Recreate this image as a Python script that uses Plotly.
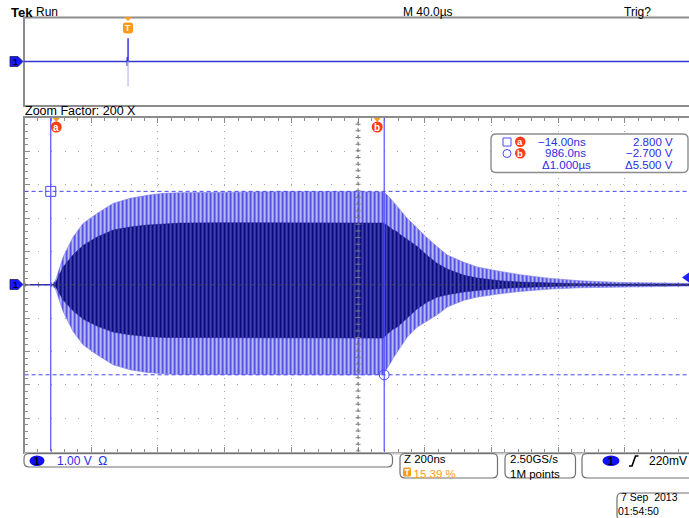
import plotly.graph_objects as go

# ---------------- data (read from the screen) ----------------
# zoom window envelope, time in ns, volts (1 V/div)
env_t = [-8, 0, 23, 53, 83, 125, 173, 224, 275, 323, 374, 500, 700, 900, 983,
         995, 1004, 1013, 1025, 1034, 1055, 1085, 1115, 1145, 1175, 1223, 1265,
         1334, 1394, 1484, 1574, 1694, 1800, 1900]
outer_hi = [0.05, 0.12, 0.83, 1.43, 1.84, 2.14, 2.44, 2.59, 2.68, 2.74, 2.76, 2.78, 2.79, 2.79, 2.78,
            2.69, 2.60, 2.49, 2.35, 2.24, 1.99, 1.70, 1.40, 1.14, 0.89, 0.68, 0.53,
            0.40, 0.30, 0.19, 0.12, 0.07, 0.05, 0.04]
outer_lo = [-0.05, -0.12, -0.80, -1.40, -1.80, -2.10, -2.40, -2.55, -2.63, -2.67, -2.69, -2.70, -2.70, -2.70, -2.69,
            -2.50, -2.36, -2.20, -2.00, -1.88, -1.57, -1.27, -1.08, -0.90, -0.67, -0.47, -0.37,
            -0.27, -0.20, -0.13, -0.09, -0.06, -0.05, -0.04]
inner_hi = [0.0, 0.05, 0.53, 0.90, 1.18, 1.43, 1.64, 1.73, 1.79, 1.83, 1.85, 1.86, 1.86, 1.86, 1.85,
            1.78, 1.70, 1.64, 1.59, 1.50, 1.36, 1.15, 0.88, 0.64, 0.47, 0.29, 0.20,
            0.12, 0.08, 0.05, 0.03, 0.02, 0.02, 0.02]
inner_lo = [0.0, -0.05, -0.46, -0.78, -1.03, -1.24, -1.42, -1.50, -1.55, -1.58, -1.60, -1.60, -1.60, -1.60, -1.60,
            -1.48, -1.40, -1.33, -1.27, -1.18, -1.00, -0.72, -0.52, -0.37, -0.30, -0.22, -0.17,
            -0.11, -0.08, -0.05, -0.03, -0.02, -0.02, -0.02]
pre_t = [-92.4, -8]
pre_v = [0.0, 0.0]

# overview record (µs, volts)
ov_t = [-62.6, -0.5, -0.5, -0.5, 0.0, 337.4]
ov_v = [0.0, 0.0, 0.5, -0.5, 0.0, 0.0]
spike_t = [0.0, 0.0]
spike_hi = [0.0, 2.6]
spike_lo = [0.0, -2.8]

# cursors
cur_t = [-14.0, 986.0]
cur_v = [2.8, -2.7]
cur_names = ["a", "b"]
readout = [["−14.00ns", "2.800 V"], ["986.0ns", "−2.700 V"], ["Δ1.000µs", "Δ5.500 V"]]
trig_level = 0.22

# axes
X_RANGE = [-92.4, 1900]
Y_RANGE = [-5, 5]
OV_RANGE = [-62.6, 337.4]

# ---------------- helpers ----------------
W, H = 689, 518
def px(x): return x / W
def py(y): return 1 - y / H

def rrect(x0, y0, x1, y1, r):
    pts = [("M", [(x0 + r, y0)]), ("L", [(x1 - r, y0)]), ("Q", [(x1, y0), (x1, y0 + r)]),
           ("L", [(x1, y1 - r)]), ("Q", [(x1, y1), (x1 - r, y1)]), ("L", [(x0 + r, y1)]),
           ("Q", [(x0, y1), (x0, y1 - r)]), ("L", [(x0, y0 + r)]), ("Q", [(x0, y0), (x0 + r, y0)])]
    s = ""
    for c, ps in pts:
        s += c + " " + " ".join(f"{px(a):.5f},{py(b):.5f}" for a, b in ps) + " "
    return s + "Z"

def poly(points, close=True):
    return "M " + " L ".join(f"{px(a):.5f},{py(b):.5f}" for a, b in points) + (" Z" if close else "")

GRAY = "#8c8c8c"
BLUE_TXT = "#2c2ce6"
ORANGE = "#ff9a1c"
RED = "#ff3d14"
FONT = "Liberation Sans"

fig = go.Figure()

# ---------------- traces ----------------
fig.add_trace(go.Scatter(
    x=env_t + env_t[::-1], y=outer_hi + outer_lo[::-1], fill="toself", mode="lines",
    line=dict(width=0.6, color="#7c7cee"), fillcolor="#b4b4f4",
    fillpattern=dict(shape="|", size=4, solidity=0.45, fgcolor="#4848e4", bgcolor="#b8b8f6", fillmode="replace"),
    hoverinfo="skip", xaxis="x", yaxis="y"))
fig.add_trace(go.Scatter(
    x=env_t + env_t[::-1], y=inner_hi + inner_lo[::-1], fill="toself", mode="lines",
    line=dict(width=0.5, color="#1a1a90"), fillcolor="#0c0c80",
    fillpattern=dict(shape="|", size=4, solidity=0.28, fgcolor="#6a6ae0", bgcolor="#0b0b7c", fillmode="replace"),
    hoverinfo="skip", xaxis="x", yaxis="y"))
fig.add_trace(go.Scatter(x=pre_t, y=pre_v, mode="lines", line=dict(color="#2a2ad0", width=1.6),
                         hoverinfo="skip", xaxis="x", yaxis="y"))
# cursor markers
fig.add_trace(go.Scatter(x=[cur_t[0]], y=[cur_v[0]], mode="markers",
                         marker=dict(symbol="square-open", size=10, color="#4a4aff", line=dict(width=1)),
                         hoverinfo="skip", xaxis="x", yaxis="y"))
fig.add_trace(go.Scatter(x=[cur_t[1]], y=[cur_v[1]], mode="markers",
                         marker=dict(symbol="circle-open", size=10, color="#4a4aff", line=dict(width=1)),
                         hoverinfo="skip", xaxis="x", yaxis="y"))

# overview
fig.add_trace(go.Scatter(x=ov_t, y=ov_v, mode="lines", line=dict(color="#3434d6", width=1.5),
                         hoverinfo="skip", xaxis="x2", yaxis="y2"))
fig.add_trace(go.Scatter(x=spike_t, y=spike_hi, mode="lines", line=dict(color="#3434e0", width=1.5),
                         hoverinfo="skip", xaxis="x2", yaxis="y2"))
fig.add_trace(go.Scatter(x=spike_t, y=spike_lo, mode="lines", line=dict(color="#c8c8f4", width=1.5),
                         hoverinfo="skip", xaxis="x2", yaxis="y2"))

# ---------------- layout / axes ----------------
x_dom = [24.6 / W, 1]
y_dom = [py(451.5), py(118)]
fig.update_layout(
    width=W, height=518, margin=dict(l=0, r=0, t=0, b=0),
    paper_bgcolor="white", plot_bgcolor="white", showlegend=False,
    xaxis=dict(domain=x_dom, range=X_RANGE, anchor="y", showgrid=True, gridcolor="#a6a6a6", gridwidth=1,
               griddash="1px,5.67px", tick0=X_RANGE[0], dtick=200, ticks="inside", ticklen=5,
               tickcolor=GRAY, showticklabels=False, showline=True, linecolor=GRAY, linewidth=2,
               mirror="ticks", zeroline=False, fixedrange=True,
               minor=dict(dtick=40, tick0=X_RANGE[0], ticks="inside", ticklen=3, tickcolor=GRAY, showgrid=False)),
    yaxis=dict(domain=y_dom, range=Y_RANGE, anchor="x", showgrid=True, gridcolor="#a6a6a6", gridwidth=1,
               griddash="1px,12.3px", tick0=-5, dtick=1, ticks="inside", ticklen=5, tickcolor=GRAY,
               showticklabels=False, showline=True, linecolor=GRAY, linewidth=2, mirror=False,
               zeroline=False, fixedrange=True,
               minor=dict(dtick=0.2, tick0=-5, ticks="inside", ticklen=3, tickcolor=GRAY, showgrid=False)),
    xaxis2=dict(domain=[24 / W, 1], range=OV_RANGE, anchor="y2", visible=False, fixedrange=True),
    yaxis2=dict(domain=[py(106), py(17)], range=Y_RANGE, anchor="x2", visible=False, fixedrange=True),
)

shapes = []
# top panel frame
shapes.append(dict(type="rect", xref="paper", yref="paper", x0=px(24), x1=px(695), y0=py(106), y1=py(17.5),
                   line=dict(color=GRAY, width=2), layer="below"))
# center cross of the zoom graticule
xc = X_RANGE[0] + 1000
shapes.append(dict(type="line", xref="x", yref="y", x0=X_RANGE[0], x1=X_RANGE[1], y0=0, y1=0,
                   line=dict(color="#4a4a4a", width=1, dash="3px,3.67px"), layer="above"))
shapes.append(dict(type="line", xref="x", yref="y", x0=xc, x1=xc, y0=Y_RANGE[0], y1=Y_RANGE[1],
                   line=dict(color="#5a5a5a", width=1, dash="3px,3.67px"), layer="above"))
shapes.append(dict(type="line", xref="x", yref="y", x0=xc, x1=xc, y0=Y_RANGE[0], y1=Y_RANGE[1],
                   line=dict(color="#7a7a7a", width=5, dash="1px,5.67px"), layer="above"))
shapes.append(dict(type="line", xref="x", yref="y", x0=X_RANGE[0], x1=X_RANGE[1], y0=0, y1=0,
                   line=dict(color="#8a8a8a", width=5, dash="1px,12.33px"), layer="below"))
# cursor lines
for t in cur_t:
    shapes.append(dict(type="line", xref="x", yref="y", x0=t, x1=t, y0=Y_RANGE[0], y1=Y_RANGE[1],
                       line=dict(color="#5050ff", width=1.2), layer="above"))
for v in cur_v:
    shapes.append(dict(type="line", xref="x", yref="y", x0=X_RANGE[0], x1=X_RANGE[1], y0=v, y1=v,
                       line=dict(color="#4646ee", width=1, dash="4px,3px"), layer="above"))
# cursor labels (pixel offsets from the cursor time)
for t, off in zip(cur_t, [5.5, -7]):
    shapes.append(dict(type="path", xref="x", yref="paper", xsizemode="pixel", xanchor=t,
                       path=f"M {off-3.5},{py(118)} L {off+3.5},{py(118)} L {off},{py(122)} Z",
                       fillcolor=ORANGE, line=dict(width=0), layer="above"))
    shapes.append(dict(type="circle", xref="x", yref="paper", xsizemode="pixel", xanchor=t,
                       x0=off - 5.5, x1=off + 5.5, y0=py(132.5), y1=py(121.5),
                       fillcolor=RED, line=dict(width=0), layer="above"))
# trigger level arrow on the right
shapes.append(dict(type="path", xref="paper", yref="y",
                   path=f"M {px(682)},{trig_level} L {px(689)},{trig_level + 0.15} L {px(689)},{trig_level - 0.15} Z",
                   fillcolor="#2020ff", line=dict(width=0), layer="above"))
# readout box
shapes.append(dict(type="path", path=rrect(491, 134, 688, 172.5, 5), xref="paper", yref="paper",
                   fillcolor="white", line=dict(color=GRAY, width=1.4), layer="above"))
shapes.append(dict(type="rect", xref="paper", yref="paper", x0=px(503), x1=px(511), y0=py(146), y1=py(138),
                   line=dict(color="#4a4aff", width=1), layer="above"))
shapes.append(dict(type="circle", xref="paper", yref="paper", x0=px(503), x1=px(511), y0=py(157.5), y1=py(149.5),
                   line=dict(color="#4a4aff", width=1), layer="above"))
for yy in [141.7, 153.3]:
    shapes.append(dict(type="circle", xref="paper", yref="paper", x0=px(515), x1=px(525.5), y0=py(yy + 5.2),
                       y1=py(yy - 5.2), fillcolor=RED, line=dict(width=0), layer="above"))
# ground markers
for yc in [61.5, 284.5]:
    shapes.append(dict(type="path", xref="paper", yref="paper",
                       path=poly([(10, yc - 5), (18, yc - 5), (23, yc), (18, yc + 5), (10, yc + 5)]),
                       fillcolor="#1818ff", line=dict(color="#202060", width=0.8), layer="above"))
# trigger position marker on the overview
shapes.append(dict(type="path", xref="paper", yref="paper",
                   path=poly([(124, 17), (132, 17), (128, 21)]), fillcolor=ORANGE, line=dict(width=0)))
shapes.append(dict(type="path", xref="paper", yref="paper", path=rrect(123, 22.5, 133, 33.5, 2.5),
                   fillcolor=ORANGE, line=dict(width=0)))
# status boxes
shapes.append(dict(type="line", xref="paper", yref="paper", x0=px(24), x1=px(695), y0=py(453.5), y1=py(453.5),
                   line=dict(color="#c8c8c8", width=2)))
for (a, b, c, d) in [(24, 453.5, 392.5, 467), (400, 453.5, 497.5, 478), (505, 453.5, 575.5, 478),
                     (582, 453.5, 700, 478), (617, 493, 700, 520)]:
    shapes.append(dict(type="path", path=rrect(a, b, c, d, 5), xref="paper", yref="paper",
                       fillcolor="rgba(0,0,0,0)", line=dict(color="#707070", width=1.2)))
for (a, b, c, d) in [(29.5, 455.5, 44.5, 466), (602.5, 455.5, 619.5, 466)]:
    shapes.append(dict(type="circle", xref="paper", yref="paper", x0=px(a), x1=px(c), y0=py(d), y1=py(b),
                       fillcolor="#1010ff", line=dict(width=0)))
# trigger-position icon (orange square with a white T)
shapes.append(dict(type="path", xref="paper", yref="paper", path=rrect(403, 467.5, 411, 476.5, 1.5),
                   fillcolor=ORANGE, line=dict(width=0)))
shapes.append(dict(type="path", xref="paper", yref="paper",
                   path=poly([(404.5, 469.8), (409.5, 469.8)], close=False), line=dict(color="white", width=1.4)))
shapes.append(dict(type="path", xref="paper", yref="paper",
                   path=poly([(407, 469.8), (407, 475.2)], close=False), line=dict(color="white", width=1.4)))
# slope symbol
shapes.append(dict(type="path", xref="paper", yref="paper",
                   path=f"M {px(629)},{py(466)} L {px(632)},{py(466)} L {px(635.5)},{py(456)} L {px(638.5)},{py(456)}",
                   line=dict(color="black", width=1.6)))
fig.update_layout(shapes=shapes)

# ---------------- text ----------------
ann = []
def text(x, y, s, size=12, color="black", anchor="left", bold=False, family=FONT, align="left"):
    ann.append(dict(x=px(x), y=py(y), xref="paper", yref="paper", text=f"<b>{s}</b>" if bold else s,
                    showarrow=False, xanchor=anchor, yanchor="middle", align=align, borderpad=0,
                    font=dict(family=family, size=size, color=color)))

text(10, 12.5, "Tek", 13, bold=True)
text(35, 12, "Run", 12)
text(402, 12, "M 40.0µs", 12)
text(623, 12, "Trig?", 12)
text(24, 111.5, "Zoom Factor: 200 X", 12.5)
# overview T
text(128, 28, "T", 8.5, "white", "center", True)
# ground marker labels
for yc in [61.5, 284.5]:
    text(15.5, yc, "1", 9, "black", "center", True)
# cursor label letters
for t, off, nm in zip(cur_t, [5.5, -7], cur_names):
    ann.append(dict(x=t, y=py(127), xref="x", yref="paper", xshift=off, text=f"<b>{nm}</b>", showarrow=False,
                    xanchor="center", yanchor="middle", font=dict(family=FONT, size=10, color="white")))
text(520.2, 141.7, "a", 9.5, "white", "center", True)
text(520.2, 153.3, "b", 9.5, "white", "center", True)
# readout
rows_y = [141.7, 153.3, 165]
left_x = [587, 587, 592]
for (l, r), yy, lx in zip(readout, rows_y, left_x):
    text(lx, yy, l, 11.5, BLUE_TXT, "right")
    text(674, yy, r, 11.5, BLUE_TXT, "right")
# status
text(37, 461, "1", 10, "black", "center", True)
text(56, 461, "1.00 V  Ω", 12, BLUE_TXT)
text(403, 466, "Z 200ns<br><span style='color:%s'>&nbsp;&nbsp;&nbsp;15.39 %%</span>" % ORANGE, 11.5)
text(509, 466, "2.50GS/s<br>1M points", 11.5)
text(611, 461, "1", 10, "black", "center", True)
text(648, 461, "220mV", 12)
text(617, 504, "&nbsp;7 Sep  2013<br>01:54:50", 10.5)
fig.update_layout(annotations=ann)

fig.write_html("out.html")
